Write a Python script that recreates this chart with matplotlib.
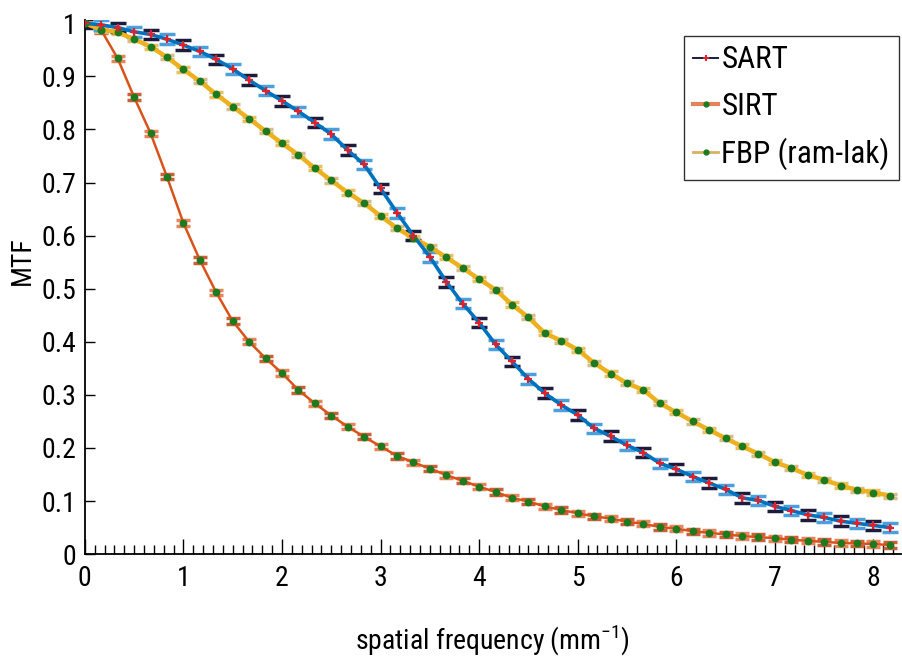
import matplotlib
matplotlib.use("Agg")
import matplotlib.pyplot as plt
from matplotlib.lines import Line2D
from matplotlib.ticker import MultipleLocator, FuncFormatter

plt.rcParams['font.family'] = ['Roboto Condensed', 'Liberation Sans', 'DejaVu Sans']
plt.rcParams['mathtext.fontset'] = 'custom'
plt.rcParams['mathtext.rm'] = 'Roboto Condensed'
plt.rcParams['axes.unicode_minus'] = False

# spatial frequency samples (mm^-1)
freq = [0.000, 0.167, 0.333, 0.500, 0.667, 0.833, 1.000, 1.167, 1.333, 1.500,
        1.667, 1.833, 2.000, 2.167, 2.333, 2.500, 2.667, 2.833, 3.000, 3.167,
        3.333, 3.500, 3.667, 3.833, 4.000, 4.167, 4.333, 4.500, 4.667, 4.833,
        5.000, 5.167, 5.333, 5.500, 5.667, 5.833, 6.000, 6.167, 6.333, 6.500,
        6.667, 6.833, 7.000, 7.167, 7.333, 7.500, 7.667, 7.833, 8.000, 8.167]

mtf_sart = [1.000, 0.997, 0.992, 0.984, 0.979, 0.970, 0.959, 0.947, 0.932, 0.914,
            0.893, 0.873, 0.854, 0.834, 0.813, 0.791, 0.761, 0.734, 0.689, 0.643,
            0.600, 0.560, 0.513, 0.472, 0.436, 0.395, 0.363, 0.330, 0.303, 0.281,
            0.262, 0.237, 0.222, 0.205, 0.191, 0.171, 0.160, 0.146, 0.134, 0.122,
            0.106, 0.101, 0.090, 0.082, 0.074, 0.069, 0.062, 0.058, 0.054, 0.050]

mtf_sirt = [1.000, 0.987, 0.934, 0.861, 0.793, 0.711, 0.624, 0.554, 0.493, 0.439,
            0.400, 0.369, 0.341, 0.309, 0.284, 0.261, 0.240, 0.221, 0.203, 0.185,
            0.173, 0.161, 0.149, 0.138, 0.127, 0.117, 0.106, 0.099, 0.090, 0.083,
            0.077, 0.071, 0.067, 0.061, 0.057, 0.051, 0.048, 0.043, 0.040, 0.037,
            0.034, 0.032, 0.030, 0.027, 0.025, 0.023, 0.021, 0.020, 0.019, 0.017]

mtf_fbp = [1.000, 0.988, 0.983, 0.970, 0.956, 0.936, 0.913, 0.891, 0.866, 0.843,
           0.820, 0.797, 0.774, 0.752, 0.727, 0.704, 0.681, 0.661, 0.637, 0.614,
           0.595, 0.579, 0.559, 0.539, 0.518, 0.498, 0.470, 0.446, 0.416, 0.402,
           0.385, 0.360, 0.340, 0.322, 0.309, 0.284, 0.267, 0.250, 0.234, 0.218,
           0.203, 0.189, 0.173, 0.162, 0.149, 0.140, 0.129, 0.121, 0.116, 0.110]

# approximate error half-widths
err_sart = 0.009
err_sirt = 0.005
err_fbp = 0.004

fig = plt.figure(figsize=(9.02, 6.70), dpi=100)
ax = fig.add_axes([0.094, 0.173, 0.905, 0.797])


def draw_series(x, y, err, line_color, cap_colors, mk, mk_color, lw, capsize):
    # caps alternate between two tones, as in the reference
    for i, cc in enumerate(cap_colors):
        xs = x[i::2]
        ys = y[i::2]
        ax.errorbar(xs, ys, yerr=err, fmt='none', ecolor=cc, elinewidth=1,
                    capsize=capsize, capthick=2.5, zorder=2)
    ax.plot(x, y, '-', color=line_color, linewidth=lw, zorder=3)
    ax.plot(x, y, linestyle='none', marker=mk, color=mk_color,
            markersize=4 if mk == 'o' else 6, markeredgewidth=1.6, zorder=4)


draw_series(freq, mtf_sirt, err_sirt, '#D95319', ['#E8845C', '#C8603A'], 'o', '#1E7A1E', 1.8, 5)
draw_series(freq, mtf_fbp, err_fbp, '#EDB120', ['#E8C060', '#D8BC88'], 'o', '#1E7A1E', 3.2, 5)
draw_series(freq, mtf_sart, err_sart, '#0072BD', ['#1C1C3C', '#4AA0DC'], '+', '#E0202A', 2.6, 6)

ax.set_xlim(0, 8.28)
ax.set_ylim(0, 1.006)
ax.set_xticks(range(0, 9))
ax.xaxis.set_minor_locator(MultipleLocator(0.1))
ax.set_yticks([0, 0.1, 0.2, 0.3, 0.4, 0.5, 0.6, 0.7, 0.8, 0.9, 1])
ax.yaxis.set_major_formatter(FuncFormatter(lambda v, p: f'{v:g}'))

for side in ['top', 'right']:
    ax.spines[side].set_visible(False)
for side in ['left', 'bottom']:
    ax.spines[side].set_linewidth(1.3)

ax.tick_params(axis='x', which='major', direction='in', length=10.5, width=1, labelsize=20, pad=8)
ax.tick_params(axis='x', which='minor', direction='in', length=6.5, width=1)
ax.tick_params(axis='y', which='major', direction='in', length=7, width=1, labelsize=20, pad=6)

ax.set_xlabel('spatial frequency (mm$^{-1}$)', fontsize=20, labelpad=22)
ax.set_ylabel('MTF', fontsize=20)
ax.yaxis.set_label_coords(-0.06, 0.55)

handles = [
    Line2D([], [], color='#1C1C3C', linewidth=1.4, marker='+', markersize=5,
           markeredgecolor='#E0202A', markeredgewidth=1.4),
    Line2D([], [], color='#E0845C', linewidth=3, marker='o', markersize=3.5,
           markerfacecolor='#1E7A1E', markeredgecolor='#1E7A1E'),
    Line2D([], [], color='#D8B060', linewidth=2, marker='o', markersize=3.5,
           markerfacecolor='#1E7A1E', markeredgecolor='#1E7A1E'),
]
leg = ax.legend(handles, ['SART', 'SIRT', 'FBP (ram-lak)'], loc='upper right',
                bbox_to_anchor=(0.9975, 0.97), fontsize=22.5, frameon=True,
                fancybox=False, handlelength=0.8, handletextpad=0.1,
                borderpad=0.3, labelspacing=0.55, borderaxespad=0.0)
leg.get_frame().set_edgecolor('black')
leg.get_frame().set_linewidth(1.0)

fig.savefig('out.png', dpi=100)
